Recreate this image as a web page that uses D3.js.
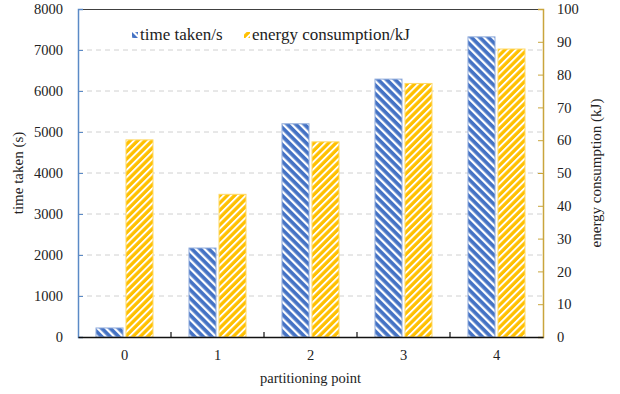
<!DOCTYPE html>
<html lang="en">
<head>
  <meta charset="UTF-8">
  <title>time taken and energy consumption</title>
  <script src="https://cdn.jsdelivr.net/npm/d3@7"></script>
  <style>
    body { margin: 0; background: #fff; }
    svg text { font-family: "Liberation Serif", "Times New Roman", Times, "DejaVu Serif", serif !important; }
  </style>
</head>
<body>
  <svg width="620" height="394"></svg>
  <script>
    // data
    const points = ['0', '1', '2', '3', '4'];
    const timeTaken = [220, 2170, 5200, 6290, 7320];
    const energy = [60.1, 43.5, 59.5, 77.3, 87.8];
    const leftTicks = [0, 1000, 2000, 3000, 4000, 5000, 6000, 7000, 8000];
    const rightTicks = [0, 10, 20, 30, 40, 50, 60, 70, 80, 90, 100];

    const margin = { top: 9, right: 77, bottom: 57, left: 78 };
    const width = 620, height = 394;
    const innerW = width - margin.left - margin.right;
    const innerH = height - margin.top - margin.bottom;

    const blue = '#4472C4';
    const gold = '#FFC000';

    const svg = d3.select('svg');

    // hatch patterns
    const defs = svg.append('defs');
    function hatch(id, color, angle, size, stripe) {
      const p = defs.append('pattern')
        .attr('id', id)
        .attr('patternUnits', 'userSpaceOnUse')
        .attr('width', size)
        .attr('height', size)
        .attr('patternTransform', `rotate(${angle})`);
      p.append('rect').attr('width', size).attr('height', size).attr('fill', color);
      p.append('rect').attr('width', stripe).attr('height', size).attr('fill', '#fff');
    }
    hatch('hatchBlue', blue, -45, 6, 2.3);
    hatch('hatchGold', gold, 45, 5.2, 1.9);

    const g = svg.append('g').attr('transform', `translate(${margin.left},${margin.top})`);

    const x = d3.scaleBand().domain(points).range([0, innerW]).paddingInner(0).paddingOuter(0);
    const yL = d3.scaleLinear().domain([0, 8000]).range([innerH, 0]);
    const yR = d3.scaleLinear().domain([0, 100]).range([innerH, 0]);

    // gridlines
    g.append('g')
      .selectAll('line')
      .data(leftTicks.slice(1, -1))
      .join('line')
      .attr('x1', 0).attr('x2', innerW)
      .attr('y1', d => yL(d)).attr('y2', d => yL(d))
      .attr('stroke', '#d0d0d0')
      .attr('stroke-width', 1)
      .attr('stroke-dasharray', '5,4');

    // bars
    const barW = 27, gap = 3;
    const grp = g.append('g')
      .selectAll('g')
      .data(points)
      .join('g')
      .attr('transform', d => `translate(${x(d) + x.bandwidth() / 2},0)`);

    grp.append('rect')
      .attr('x', -barW - gap / 2)
      .attr('width', barW)
      .attr('y', (d, i) => yL(timeTaken[i]))
      .attr('height', (d, i) => innerH - yL(timeTaken[i]))
      .attr('fill', 'url(#hatchBlue)')
      .attr('stroke', '#8eaadb')
      .attr('stroke-width', 1);

    grp.append('rect')
      .attr('x', gap / 2)
      .attr('width', barW)
      .attr('y', (d, i) => yR(energy[i]))
      .attr('height', (d, i) => innerH - yR(energy[i]))
      .attr('fill', 'url(#hatchGold)')
      .attr('stroke', '#ffd966')
      .attr('stroke-width', 1);

    // top border
    g.append('line')
      .attr('x1', 0).attr('x2', innerW)
      .attr('y1', 0.5).attr('y2', 0.5)
      .attr('stroke', '#404040').attr('stroke-width', 1.2);

    // left axis
    const axL = g.append('g')
      .call(d3.axisLeft(yL).tickValues(leftTicks).tickSize(-5).tickPadding(15).tickFormat(d3.format('d')));
    axL.select('.domain').attr('stroke', '#5b8ac6').attr('stroke-width', 1.5);
    axL.selectAll('.tick line').attr('stroke', '#5b8ac6');
    axL.selectAll('text').attr('font-size', 14.5).attr('fill', '#222');

    // right axis
    const axR = g.append('g')
      .attr('transform', `translate(${innerW},0)`)
      .call(d3.axisRight(yR).tickValues(rightTicks).tickSize(-5).tickPadding(14));
    axR.select('.domain').attr('stroke', '#c9a53c').attr('stroke-width', 1.5);
    axR.selectAll('.tick line').attr('stroke', '#c9a53c');
    axR.selectAll('text').attr('font-size', 14.5).attr('fill', '#222');

    // bottom axis
    const axB = g.append('g')
      .attr('transform', `translate(0,${innerH})`)
      .call(d3.axisBottom(x).tickSize(0).tickPadding(13));
    axB.select('.domain').attr('stroke', '#111').attr('stroke-width', 1.5);
    axB.selectAll('text').attr('font-size', 14.5).attr('fill', '#222');
    g.append('g')
      .selectAll('line')
      .data(points.slice(1))
      .join('line')
      .attr('x1', d => x(d)).attr('x2', d => x(d))
      .attr('y1', innerH).attr('y2', innerH - 5)
      .attr('stroke', '#111').attr('stroke-width', 1.2);

    // axis titles
    svg.append('text')
      .attr('transform', `translate(23,${margin.top + innerH / 2}) rotate(-90)`)
      .attr('text-anchor', 'middle')
      .attr('font-size', 15).attr('fill', '#222')
      .text('time taken (s)');
    svg.append('text')
      .attr('transform', `translate(601,${margin.top + innerH / 2}) rotate(-90)`)
      .attr('text-anchor', 'middle')
      .attr('font-size', 15).attr('fill', '#222')
      .text('energy consumption (kJ)');
    svg.append('text')
      .attr('x', margin.left + innerW / 2)
      .attr('y', 383)
      .attr('text-anchor', 'middle')
      .attr('font-size', 14.5).attr('fill', '#222')
      .text('partitioning point');

    // legend
    const legend = [
      { label: 'time taken/s', fill: 'url(#hatchBlue)', x: 132 },
      { label: 'energy consumption/kJ', fill: 'url(#hatchGold)', x: 244 }
    ];
    const lg = svg.append('g').selectAll('g').data(legend).join('g')
      .attr('transform', d => `translate(${d.x},32)`);
    lg.append('rect').attr('width', 6).attr('height', 6).attr('fill', d => d.fill);
    lg.append('text')
      .attr('x', 8).attr('y', 8)
      .attr('font-size', 17).attr('fill', '#222')
      .text(d => d.label);
  </script>
</body>
</html>
